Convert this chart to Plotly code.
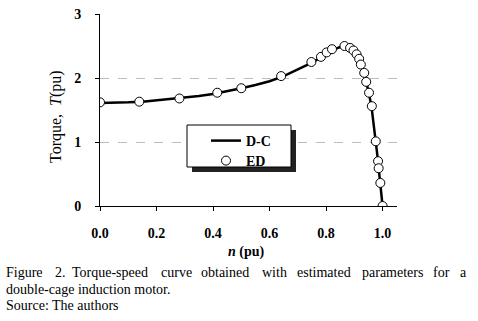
import plotly.graph_objects as go

# ---------------- data ----------------
dc_n = [0.00, 0.05, 0.10, 0.15, 0.20, 0.25, 0.30, 0.35, 0.40, 0.45, 0.50, 0.55,
        0.60, 0.65, 0.70, 0.75, 0.80, 0.83, 0.86, 0.88, 0.90, 0.92, 0.94, 0.96,
        0.98, 0.99, 1.00]
dc_T = [1.61, 1.61, 1.62, 1.63, 1.65, 1.67, 1.69, 1.72, 1.75, 1.79, 1.84, 1.89,
        1.95, 2.03, 2.13, 2.24, 2.37, 2.45, 2.50, 2.49, 2.42, 2.26, 1.99, 1.58,
        0.85, 0.40, 0.00]

ed_n = [0.000, 0.139, 0.281, 0.415, 0.500, 0.641, 0.748, 0.782, 0.802, 0.821,
        0.865, 0.885, 0.897, 0.908, 0.917, 0.923, 0.935, 0.942, 0.952, 0.962,
        0.976, 0.984, 0.986, 0.992, 1.000]
ed_T = [1.62, 1.63, 1.68, 1.77, 1.84, 2.03, 2.25, 2.33, 2.40, 2.45,
        2.50, 2.47, 2.43, 2.37, 2.30, 2.21, 2.08, 1.94, 1.77, 1.56,
        1.01, 0.70, 0.59, 0.36, 0.00]

x_ticks = [0.0, 0.2, 0.4, 0.6, 0.8, 1.0]
x_tick_labels = ["0.0", "0.2", "0.4", "0.6", "0.8", "1.0"]
y_ticks = [0, 1, 2, 3]
y_tick_labels = ["0", "1", "2", "3"]

series_names = ["D-C", "ED"]
caption_line1 = ["Figure", "2.", "Torque-speed", "curve", "obtained", "with",
                 "estimated", "parameters", "for", "a"]
caption_line2 = "double-cage induction motor."
caption_line3 = "Source: The authors"

# ---------------- layout helpers ----------------
W, H = 478, 321
L, R, T, B = 100, 81, 14, 115
PW, PH = W - L - R, H - T - B
FONT = "Liberation Serif"


def X(px):
    return (px - L) / PW


def Y(py):
    return (T + PH - py) / PH


def note(text, px, py, size=14, xanchor="center", **kw):
    return dict(text=text, xref="paper", yref="paper", x=X(px), y=Y(py),
                xanchor=xanchor, yanchor="middle", showarrow=False,
                font=dict(family=FONT, size=size, color="black"), **kw)


def legend_box(px, py):
    return dict(x=X(px), y=Y(py), xanchor="left", yanchor="top",
                bgcolor="rgba(0,0,0,0)", borderwidth=0,
                font=dict(family=FONT, size=14, color="black"))


fig = go.Figure()
fig.add_trace(go.Scatter(
    x=dc_n, y=dc_T, mode="lines", name="<b>" + series_names[0] + "</b>",
    line=dict(color="black", width=2.5), legend="legend"))
fig.add_trace(go.Scatter(
    x=ed_n, y=ed_T, mode="markers", name="<b>" + series_names[1] + "</b>",
    marker=dict(symbol="circle", size=9, color="white",
                line=dict(color="black", width=1)), legend="legend2"))

shapes = [
    dict(type="rect", xref="paper", yref="paper", layer="above",
         x0=X(192), x1=X(296), y0=Y(172), y1=Y(130),
         fillcolor="#222222", line=dict(width=0)),
    dict(type="rect", xref="paper", yref="paper", layer="above",
         x0=X(187), x1=X(291), y0=Y(167), y1=Y(125),
         fillcolor="white", line=dict(color="black", width=1)),
]

annotations = [
    note("Torque,  <i>T</i>(pu)", 56, 117, size=16, textangle=-90),
    note("<b><i>n</i> (pu)</b>", 246, 252, size=14),
    note(caption_line2, 4, 289, xanchor="left"),
    note(caption_line3, 4, 305, xanchor="left"),
]
word_px = [5, 54, 71, 160, 200, 261, 296, 361, 432, 459]
for w, px in zip(caption_line1, word_px):
    annotations.append(note(w, px - 1, 272, xanchor="left"))

fig.update_layout(
    width=W, height=H,
    margin=dict(l=L, r=R, t=T, b=B, pad=0, autoexpand=False),
    paper_bgcolor="white", plot_bgcolor="white",
    font=dict(family=FONT, color="black"),
    showlegend=True,
    legend=legend_box(206, 125),
    legend2=legend_box(206, 145),
    shapes=shapes,
    annotations=annotations,
    xaxis=dict(range=[0, 1.051], tickvals=x_ticks,
               ticktext=["<b>" + t + "</b>" for t in x_tick_labels],
               showgrid=False, zeroline=False, showline=True,
               linecolor="black", linewidth=1, ticks="outside", ticklen=4,
               tickcolor="black", ticklabelstandoff=10, automargin=False,
               tickfont=dict(family=FONT, size=14, color="black")),
    yaxis=dict(range=[0, 3], tickvals=y_ticks,
               ticktext=["<b>" + t + "</b>" for t in y_tick_labels],
               showgrid=True, gridcolor="#bdbdbd", griddash="dash", gridwidth=1,
               zeroline=False, showline=True, linecolor="black", linewidth=1,
               ticks="outside", ticklen=4, tickcolor="black",
               ticklabelstandoff=11, automargin=False,
               tickfont=dict(family=FONT, size=14, color="black")),
)

fig.write_html("out.html",
               config={"displayModeBar": False},
               post_script="document.body.style.margin='0';"
                           "document.body.style.padding='0';")
